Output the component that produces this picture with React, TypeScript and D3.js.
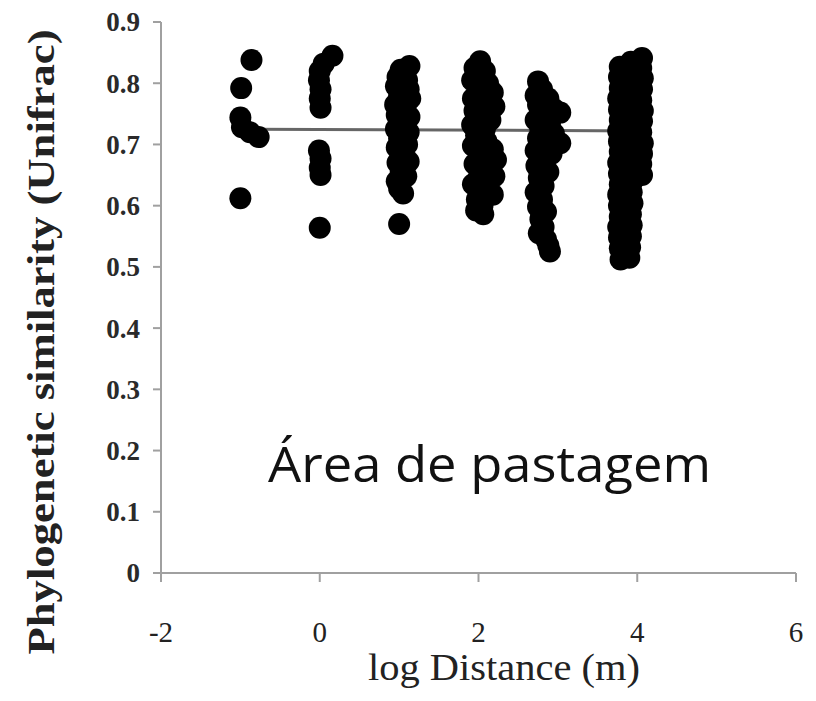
import React from "react";
import * as d3 from "d3";

const xTicks = [-2, 0, 2, 4, 6];
const yTicks = [0, 0.1, 0.2, 0.3, 0.4, 0.5, 0.6, 0.7, 0.8, 0.9];
const yTickLabels = ["0", "0.1", "0.2", "0.3", "0.4", "0.5", "0.6", "0.7", "0.8", "0.9"];

const groupM1: [number, number][] = [
  [-0.86, 0.838], [-0.99, 0.792], [-1.0, 0.744], [-0.98, 0.728], [-0.88, 0.72], [-0.77, 0.712],
  [-1.0, 0.612],
];
const group0: [number, number][] = [
  [0.16, 0.845], [0.05, 0.832], [0.0, 0.82], [-0.01, 0.805], [0.01, 0.79], [0.0, 0.775], [0.01, 0.76],
  [-0.01, 0.69], [0.01, 0.677], [0.0, 0.662], [0.01, 0.65], [0.0, 0.564],
];
const group1: [number, number][] = [
  [1.13, 0.828], [1.02, 0.822], [0.98, 0.81], [1.1, 0.805], [0.96, 0.795], [1.12, 0.79], [1.0, 0.78],
  [1.14, 0.775], [0.95, 0.765], [1.08, 0.76], [1.13, 0.745], [0.97, 0.748], [1.05, 0.735], [0.96, 0.725],
  [1.12, 0.72], [1.0, 0.71], [1.1, 0.7], [0.97, 0.695], [1.06, 0.685], [1.12, 0.672], [0.98, 0.67],
  [1.02, 0.655], [1.09, 0.648], [0.97, 0.64], [1.0, 0.628], [1.05, 0.62], [1.0, 0.57],
];
const group2: [number, number][] = [
  [2.02, 0.836], [1.95, 0.825], [2.08, 0.82], [1.92, 0.805], [2.12, 0.8], [2.0, 0.79], [2.18, 0.785],
  [1.93, 0.775], [2.1, 0.77], [2.2, 0.762], [1.95, 0.755], [2.05, 0.745], [2.15, 0.74], [1.92, 0.732],
  [2.08, 0.725], [1.97, 0.715], [2.1, 0.705], [1.93, 0.698], [2.18, 0.692], [2.05, 0.685], [2.22, 0.675],
  [1.95, 0.668], [2.12, 0.66], [2.2, 0.648], [2.0, 0.645], [1.93, 0.635], [2.1, 0.63], [2.18, 0.618],
  [1.98, 0.61], [2.05, 0.6], [1.97, 0.592], [2.06, 0.586],
];
const group3: [number, number][] = [
  [2.75, 0.803], [2.8, 0.79], [2.72, 0.78], [2.88, 0.775], [2.75, 0.765], [2.95, 0.758], [3.03, 0.752],
  [2.8, 0.748], [2.72, 0.74], [2.9, 0.735], [2.78, 0.725], [2.95, 0.718], [3.03, 0.702], [2.75, 0.71],
  [2.85, 0.7], [2.72, 0.69], [2.92, 0.685], [2.8, 0.675], [2.73, 0.665], [2.88, 0.655], [2.76, 0.645],
  [2.82, 0.632], [2.72, 0.622], [2.8, 0.61], [2.75, 0.598], [2.85, 0.59], [2.78, 0.578], [2.82, 0.565],
  [2.76, 0.555], [2.85, 0.545], [2.88, 0.535], [2.9, 0.525],
];
const group4: [number, number][] = [
  [4.06, 0.841], [4.05, 0.825], [4.07, 0.808], [4.06, 0.79], [4.05, 0.772], [4.07, 0.755], [4.06, 0.738],
  [4.05, 0.72], [4.07, 0.702], [4.06, 0.685], [4.05, 0.668], [4.06, 0.65],
  [3.92, 0.835], [3.93, 0.815], [3.91, 0.798], [3.92, 0.78], [3.93, 0.762], [3.91, 0.745], [3.92, 0.728],
  [3.93, 0.71], [3.91, 0.692], [3.92, 0.675], [3.93, 0.658], [3.94, 0.64], [3.93, 0.622], [3.94, 0.604],
  [3.92, 0.586], [3.93, 0.568], [3.92, 0.55], [3.91, 0.532], [3.9, 0.515],
  [3.78, 0.827], [3.77, 0.81], [3.78, 0.792], [3.76, 0.775], [3.77, 0.757], [3.78, 0.74], [3.76, 0.722],
  [3.77, 0.705], [3.78, 0.688], [3.76, 0.67], [3.77, 0.652], [3.78, 0.635], [3.76, 0.618], [3.77, 0.6],
  [3.78, 0.582], [3.76, 0.565], [3.77, 0.548], [3.78, 0.53], [3.79, 0.512],
  [3.85, 0.8], [3.85, 0.75], [3.85, 0.7], [3.85, 0.65], [3.85, 0.6], [3.85, 0.55],
  [3.99, 0.82], [3.99, 0.77], [3.99, 0.72], [3.99, 0.67],
];
const trendLine: [number, number][] = [[-1.0, 0.725], [4.07, 0.722]];

export default function App() {
  const x = d3.scaleLinear().domain([-2, 6]).range([161, 796]);
  const y = d3.scaleLinear().domain([0, 0.9]).range([573, 22]);
  const allPoints = [...groupM1, ...group0, ...group1, ...group2, ...group3, ...group4];
  const line = d3.line<[number, number]>().x(d => x(d[0])).y(d => y(d[1]));
  const axisColor = "#a0a0a0";
  return (
    <div style={{ position: "absolute", left: 0, top: 0 }}>
      <svg width={816} height={701} style={{ display: "block", background: "#fff" }}>
        <line x1={x(-2)} x2={x(-2)} y1={y(0.9)} y2={y(0)} stroke={axisColor} strokeWidth={2} />
        <line x1={x(-2)} x2={x(6)} y1={y(0)} y2={y(0)} stroke={axisColor} strokeWidth={2} />
        {yTicks.map((t, i) => (
          <g key={"y" + i}>
            <line x1={x(-2) - 8} x2={x(-2)} y1={y(t)} y2={y(t)} stroke={axisColor} strokeWidth={2} />
            <text x={140} y={y(t)} dy="0.35em" textAnchor="end" fontFamily="'Liberation Serif', serif"
              fontWeight="bold" fontSize={27} fill="#2a2a2a">{yTickLabels[i]}</text>
          </g>
        ))}
        {xTicks.map((t, i) => (
          <g key={"x" + i}>
            <line x1={x(t)} x2={x(t)} y1={y(0)} y2={y(0) + 9} stroke={axisColor} strokeWidth={2} />
            <text x={x(t)} y={632} dy="0.35em" textAnchor="middle" fontFamily="'Liberation Serif', serif"
              fontSize={29} fill="#222">{t < 0 ? "-" + Math.abs(t) : String(t)}</text>
          </g>
        ))}
        <path d={line(trendLine) || ""} stroke="#666" strokeWidth={3} fill="none" />
        {allPoints.map((p, i) => (
          <circle key={i} cx={x(p[0])} cy={y(p[1])} r={11} fill="#000" />
        ))}
        <text x={268} y={482} fontFamily="'Open Sans', 'DejaVu Sans', sans-serif" fontSize={50}
          textLength={443} lengthAdjust="spacingAndGlyphs" fill="#111">Área de pastagem</text>
        <text x={504} y={680} textAnchor="middle" fontFamily="'Liberation Serif', serif" fontSize={37}
          textLength={272} lengthAdjust="spacingAndGlyphs" fill="#222">log Distance (m)</text>
        <text transform={`translate(54, 342) rotate(-90)`} textAnchor="middle" fontFamily="'Liberation Serif', serif"
          fontSize={37} fontWeight="bold" textLength={625} lengthAdjust="spacingAndGlyphs" fill="#222">
          Phylogenetic similarity (Unifrac)
        </text>
      </svg>
    </div>
  );
}
